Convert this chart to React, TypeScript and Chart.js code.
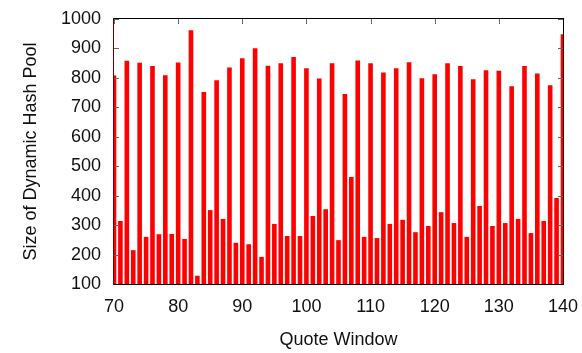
import { useEffect, useRef } from 'react';
import { Chart, registerables } from 'chart.js';

Chart.register(...registerables);

// Quote window index along the x axis
const quoteWindows = [
  70, 71, 72, 73, 74, 75, 76, 77, 78, 79,
  80, 81, 82, 83, 84, 85, 86, 87, 88, 89,
  90, 91, 92, 93, 94, 95, 96, 97, 98, 99,
  100, 101, 102, 103, 104, 105, 106, 107, 108, 109,
  110, 111, 112, 113, 114, 115, 116, 117, 118, 119,
  120, 121, 122, 123, 124, 125, 126, 127, 128, 129,
  130, 131, 132, 133, 134, 135, 136, 137, 138, 139,
  140,
];

// Size of the dynamic hash pool for each window
const poolSizes = [
  808, 314, 858, 215, 851, 260, 840, 269, 809, 270,
  852, 253, 962, 128, 752, 351, 792, 321, 835, 240,
  867, 235, 901, 192, 841, 304, 850, 263, 871, 263,
  833, 331, 798, 354, 850, 249, 745, 463, 859, 260,
  850, 256, 818, 304, 833, 318, 853, 276, 799, 297,
  812, 344, 850, 307, 840, 260, 795, 365, 826, 297,
  824, 307, 772, 321, 840, 273, 815, 314, 775, 392,
  948,
];

const xTicks = [70, 80, 90, 100, 110, 120, 130, 140];
const yTicks = [100, 200, 300, 400, 500, 600, 700, 800, 900, 1000];

const FONT_FAMILY = '"Liberation Sans", Arial, Helvetica, sans-serif';
const TEXT_COLOR = '#111111';

// Box frame around the plot with short inward tick marks on all four sides
const framePlugin = {
  id: 'frame',
  afterDatasetsDraw(chart: any) {
    const ctx = chart.ctx;
    const area = chart.chartArea;
    const xScale = chart.scales.x;
    const yScale = chart.scales.y;
    const left = Math.round(area.left);
    const right = Math.round(area.right);
    const top = Math.round(area.top);
    const bottom = Math.round(area.bottom);
    const len = 5;
    ctx.save();
    ctx.fillStyle = '#666666';
    yTicks.forEach((v) => {
      const y = Math.round(yScale.getPixelForValue(v));
      ctx.fillRect(left, y, len, 1);
      ctx.fillRect(right - len, y, len, 1);
    });
    xTicks.forEach((v) => {
      const x = Math.round(xScale.getPixelForValue(v));
      ctx.fillRect(x, top, 1, len);
    });
    ctx.fillStyle = '#000000';
    ctx.fillRect(left - 1, top - 1, right - left + 2, 1);
    ctx.fillRect(left - 1, bottom, right - left + 2, 1);
    ctx.fillRect(right, top - 1, 1, bottom - top + 2);
    ctx.fillStyle = '#6a0000';
    ctx.fillRect(left - 1, top - 1, 1, bottom - top + 2);
    ctx.restore();
  },
};

export default function App() {
  const canvasRef = useRef<HTMLCanvasElement | null>(null);

  useEffect(() => {
    const canvas = canvasRef.current;
    if (!canvas) return;

    const chart = new Chart(canvas, {
      type: 'bar',
      data: {
        datasets: [
          {
            data: quoteWindows.map((w, i) => ({ x: w, y: poolSizes[i] })),
            backgroundColor: '#ff0000',
            borderWidth: 0,
            barPercentage: 1,
            categoryPercentage: 0.72,
          },
        ],
      },
      options: {
        responsive: false,
        animation: false,
        devicePixelRatio: 1,
        layout: { padding: { top: 19, right: 18, left: 0, bottom: 0 } },
        plugins: {
          legend: { display: false },
          tooltip: { enabled: false },
        },
        scales: {
          x: {
            type: 'linear',
            offset: false,
            min: 70,
            max: 140,
            grid: { display: false, offset: false },
            border: { display: false },
            afterBuildTicks: (scale: any) => {
              scale.ticks = xTicks.map((v) => ({ value: v }));
            },
            ticks: {
              padding: 4,
              color: TEXT_COLOR,
              font: { family: FONT_FAMILY, size: 18 },
              maxRotation: 0,
              callback: (v: any) => String(v),
            },
            title: {
              display: true,
              text: 'Quote Window',
              color: TEXT_COLOR,
              font: { family: FONT_FAMILY, size: 18 },
              padding: { top: 0, bottom: 2 },
            },
            afterFit: (scale: any) => {
              scale.height = 69;
            },
          },
          y: {
            min: 100,
            max: 1000,
            grid: { display: false },
            border: { display: false },
            afterBuildTicks: (scale: any) => {
              scale.ticks = yTicks.map((v) => ({ value: v }));
            },
            ticks: {
              padding: 5,
              color: TEXT_COLOR,
              font: { family: FONT_FAMILY, size: 18 },
              callback: (v: any) => String(v),
            },
            title: {
              display: true,
              text: 'Size of Dynamic Hash Pool',
              color: TEXT_COLOR,
              font: { family: FONT_FAMILY, size: 18 },
              padding: { top: 20, bottom: 0 },
            },
            afterFit: (scale: any) => {
              scale.width = 114;
            },
          },
        },
      },
      plugins: [framePlugin],
    });

    return () => chart.destroy();
  }, []);

  return (
    <div style={{ position: 'absolute', left: 0, top: 0, width: 582, height: 353, background: '#fff' }}>
      <canvas ref={canvasRef} width={582} height={353} style={{ display: 'block' }} />
    </div>
  );
}
